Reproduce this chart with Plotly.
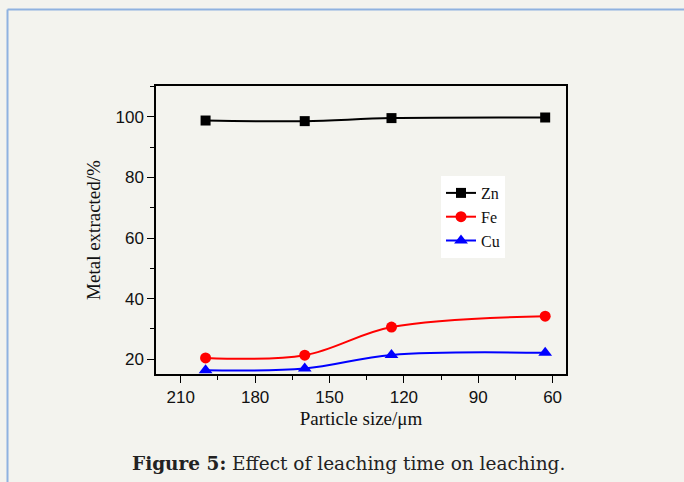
import plotly.graph_objects as go

particle_size = [200, 160, 125, 63]
zn = [98.8, 98.6, 99.6, 99.8]
fe = [20.4, 21.3, 30.6, 34.2]
cu = [16.3, 16.9, 21.4, 22.1]

x_ticks = [210, 180, 150, 120, 90, 60]
y_ticks = [20, 40, 60, 80, 100]

W, H = 684, 482
L, R, T, B = 156, 118, 86, 108
pw, ph = W - L - R, H - T - B

def px(xp):
    return (xp - L) / pw

def py(yp):
    return (H - B - yp) / ph

fig = go.Figure()
series = [("Zn", zn, "black", "square", 10),
          ("Fe", fe, "red", "circle", 11),
          ("Cu", cu, "blue", "triangle-up", 12)]
for name, vals, col, sym, sz in series:
    fig.add_trace(go.Scatter(
        x=particle_size, y=vals, name=name, mode="lines+markers",
        line=dict(color=col, width=2, shape="spline", smoothing=1.0),
        marker=dict(color=col, symbol=sym, size=sz),
    ))

bg = "#f3f3ee"
axis_common = dict(
    showgrid=False, zeroline=False, showline=True, linecolor="black", linewidth=1.5,
    mirror=True, ticks="outside", ticklen=7, tickwidth=1, tickcolor="black",
    tickfont=dict(family="Liberation Sans, Arial", size=17, color="#111"),
)
title_font = dict(family="Liberation Serif, Times New Roman", size=19, color="#111")
fig.update_layout(
    width=W, height=H,
    margin=dict(l=L, r=R, t=T, b=B),
    paper_bgcolor=bg, plot_bgcolor=bg,
    xaxis=dict(range=[220, 54.6], tickvals=x_ticks,
               minor=dict(tickvals=[195, 165, 135, 105, 75], ticklen=4, ticks="outside", tickcolor="black"),
               title=dict(text="Particle size/μm", font=title_font, standoff=6),
               **axis_common),
    yaxis=dict(range=[15.1, 110.2], tickvals=y_ticks,
               minor=dict(tickvals=[30, 50, 70, 90, 110], ticklen=4, ticks="outside", tickcolor="black"),
               title=dict(text="Metal extracted/%", font=title_font, standoff=10),
               **axis_common),
    legend=dict(x=px(441), y=py(176), xanchor="left", yanchor="top",
                bgcolor="white", borderwidth=0,
                font=dict(family="Liberation Serif, Times New Roman", size=16, color="#111"),
                tracegroupgap=0, itemwidth=30),
    showlegend=True,
)

fig.add_annotation(
    xref="paper", yref="paper", x=px(348), y=py(463),
    text="<b>Figure 5:</b> Effect of leaching time on leaching.",
    showarrow=False, xanchor="center", yanchor="middle",
    font=dict(family="DejaVu Serif", size=18.5, color="#222"),
)

border = "#8fb2e0"
fig.add_shape(type="line", xref="paper", yref="paper",
              x0=px(7.5), x1=px(684), y0=py(9.5), y1=py(9.5),
              line=dict(color=border, width=2))
fig.add_shape(type="line", xref="paper", yref="paper",
              x0=px(7.5), x1=px(7.5), y0=py(9.5), y1=py(482),
              line=dict(color=border, width=2))

fig.write_html("out.html")
